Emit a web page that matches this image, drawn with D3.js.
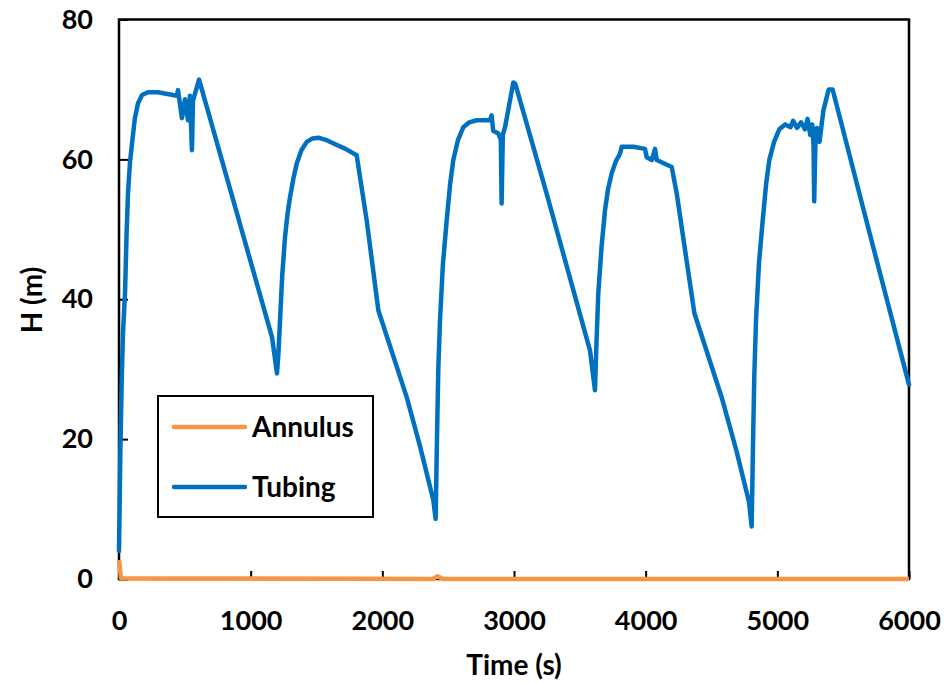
<!DOCTYPE html>
<html>
<head>
<meta charset="utf-8">
<script src="https://cdn.jsdelivr.net/npm/d3@7"></script>
<style>
  html, body { margin: 0; padding: 0; background: #fff; }
  svg { display: block; }
  text { font-family: Lato, "Open Sans", sans-serif; font-weight: bold; fill: #000; }
</style>
</head>
<body>
<svg id="chart" width="948" height="683"></svg>
<script>
// ---- Data ----
const xTicks = [0, 1000, 2000, 3000, 4000, 5000, 6000];
const yTicks = [0, 20, 40, 60, 80];
const seriesNames = ["Annulus", "Tubing"];

const tubingTime = [
  0, 10, 20, 30, 46, 57, 68, 83, 99, 120, 144, 175, 220, 296, 440, 448, 478, 501, 524, 539, 554, 562, 608,
  1162, 1200, 1210, 1223, 1240, 1261, 1280, 1299, 1325, 1350, 1385, 1426, 1470, 1514, 1570, 1626, 1720, 1805,
  1881, 1970, 2185, 2286, 2387, 2405,
  2415, 2425, 2438, 2460, 2489, 2515, 2539, 2575, 2615, 2660, 2717, 2818, 2830, 2842, 2881, 2900, 2906, 2915, 2932, 2995, 3010,
  3248, 3577, 3615,
  3625, 3640, 3665, 3691, 3715, 3742, 3775, 3805, 3818, 3906, 3995, 4008, 4046, 4071, 4084, 4198,
  4236, 4370, 4580, 4690, 4785, 4805,
  4815, 4825, 4838, 4860, 4889, 4915, 4939, 4975, 5015, 5060, 5100, 5120, 5150, 5180, 5210, 5230, 5250, 5265, 5275, 5280, 5290, 5300, 5320,
  5350, 5390, 5420, 5700, 6000];
const tubingHead = [
  4, 18, 28, 35, 41, 49, 55, 59.5, 62.3, 65.8, 68, 69.2, 69.6, 69.6, 69.1, 69.9, 65.9, 68.6, 65.6, 69.1, 61.3, 68.4, 71.4,
  34.6, 29.4, 32, 37, 43.5, 48.9, 52.2, 54.6, 57.3, 59.4, 61.3, 62.5, 63, 63.1, 62.8, 62.3, 61.5, 60.6,
  51.3, 38.4, 26.0, 19.0, 11.3, 8.6,
  20, 30, 37, 45, 51.3, 56.5, 59.9, 62.8, 64.6, 65.3, 65.6, 65.6, 66.3, 64.1, 63.7, 62.8, 53.7, 63.5, 64.6, 71.0, 70.8,
  55.1, 32.7, 27.0,
  33, 40.8, 47.5, 52.7, 55.8, 58, 59.8, 60.8, 61.8, 61.8, 61.5, 60.3, 59.9, 61.5, 59.9, 58.9,
  55.1, 38, 25.8, 18.3, 11, 7.5,
  19, 29, 37, 45, 51.3, 56.5, 59.9, 62.5, 64.3, 65, 64.6, 65.5, 64.5, 65.3, 64.3, 65.8, 63.5, 65, 62, 54, 63, 64.5, 62.5,
  67, 70, 70, 49.5, 27.8];

const annulusTime = [0, 15, 2380, 2420, 2460, 6000];
const annulusHead = [2.7, 0.1, 0, 0.4, 0, 0];

// ---- Layout ----
const svg = d3.select("#chart");
const m = { left: 119, right: 909, top: 19.5, bottom: 579 };
const x = d3.scaleLinear().domain([0, 6000]).range([m.left, m.right]);
const y = d3.scaleLinear().domain([0, 80]).range([m.bottom, m.top]);

const colors = { Annulus: "#F79646", Tubing: "#0070C0" };

// Axes with inward ticks
const xAxis = d3.axisBottom(x).tickValues(xTicks).tickSize(-8).tickPadding(32).tickFormat(d3.format("d"));
const yAxis = d3.axisLeft(y).tickValues(yTicks).tickSize(-9).tickPadding(26).tickFormat(d3.format("d"));

const gx = svg.append("g").attr("transform", `translate(0,${m.bottom})`).call(xAxis);
const gy = svg.append("g").attr("transform", `translate(${m.left},0)`).call(yAxis);
[gx, gy].forEach(g => {
  g.select(".domain").remove();
  g.selectAll(".tick line").attr("stroke", "#000").attr("stroke-width", 2);
  g.selectAll(".tick text").attr("font-size", 27).attr("font-family", "Lato, sans-serif").attr("font-weight", "bold").attr("fill", "#000");
});

// Frame
svg.append("rect").attr("x", m.left).attr("y", m.top)
  .attr("width", m.right - m.left).attr("height", m.bottom - m.top)
  .attr("fill", "none").attr("stroke", "#000").attr("stroke-width", 2.5);

// Lines
const tubing = tubingTime.map((t, i) => [t, tubingHead[i]]);
const annulus = annulusTime.map((t, i) => [t, annulusHead[i]]);
const line = d3.line().x(d => x(d[0])).y(d => y(d[1]));

svg.append("path").datum(tubing).attr("d", line)
  .attr("fill", "none").attr("stroke", colors.Tubing).attr("stroke-width", 4.5)
  .attr("stroke-linejoin", "round").attr("stroke-linecap", "round");
svg.append("path").datum(annulus).attr("d", line)
  .attr("fill", "none").attr("stroke", colors.Annulus).attr("stroke-width", 4.5)
  .attr("stroke-linejoin", "round");

// Axis titles
svg.append("text").attr("x", 514).attr("y", 675).attr("text-anchor", "middle")
  .attr("font-size", 28).text("Time (s)");
svg.append("text").attr("transform", "translate(42,300) rotate(-90)").attr("text-anchor", "middle")
  .attr("font-size", 28).text("H (m)");

// Legend
const lg = svg.append("g");
lg.append("rect").attr("x", 158).attr("y", 396).attr("width", 215).attr("height", 121)
  .attr("fill", "#fff").attr("stroke", "#000").attr("stroke-width", 2);
seriesNames.forEach((name, i) => {
  const yy = 427 + i * 60;
  lg.append("line").attr("x1", 174).attr("x2", 245).attr("y1", yy).attr("y2", yy)
    .attr("stroke", colors[name]).attr("stroke-width", 4.5).attr("stroke-linecap", "round");
  lg.append("text").attr("x", 252).attr("y", yy).attr("dy", "0.36em")
    .attr("font-size", 28).text(name);
});
</script>
</body>
</html>
